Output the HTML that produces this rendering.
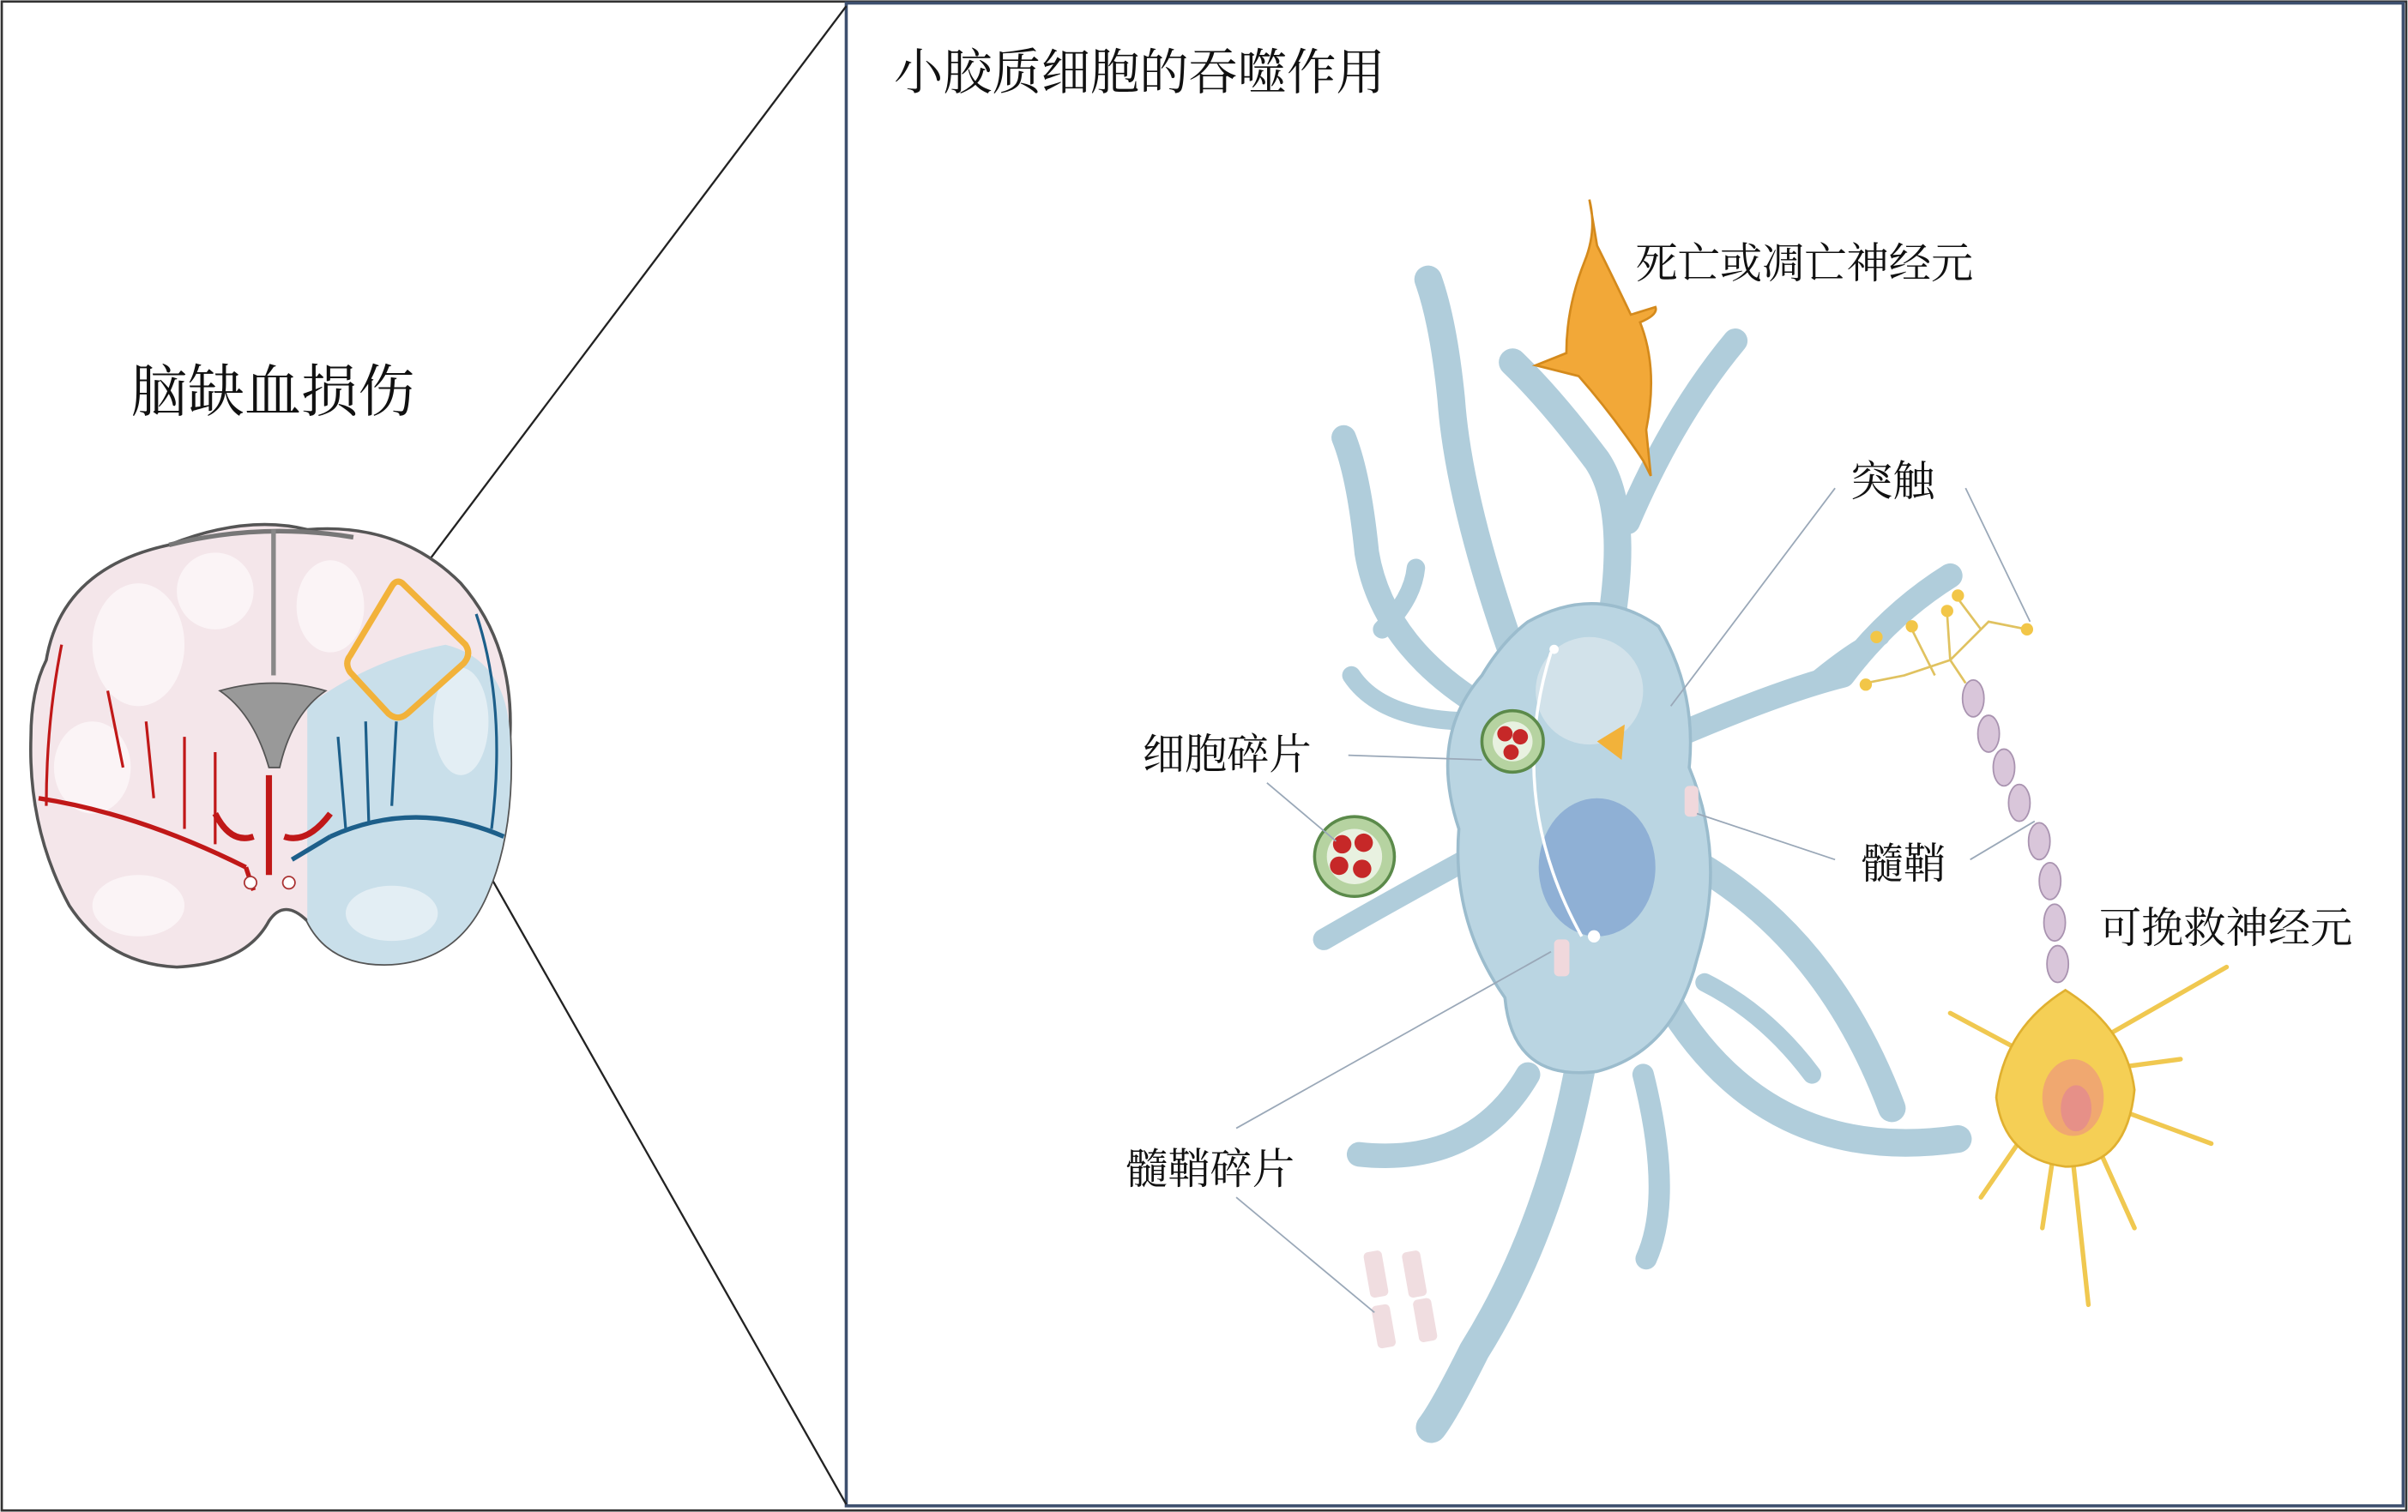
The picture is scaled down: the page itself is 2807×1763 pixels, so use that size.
<!DOCTYPE html>
<html><head><meta charset="utf-8"><style>
html,body{margin:0;padding:0;background:#fff;}
svg{display:block;}
text{font-family:"Liberation Serif","Noto Serif CJK SC","Noto Sans CJK SC",serif;fill:#111;}
</style></head><body>
<svg width="2807" height="1763" viewBox="0 0 1568 985" xmlns="http://www.w3.org/2000/svg">
<rect x="0" y="0" width="1568" height="985" fill="#fff"/>
<rect x="1" y="1" width="1566" height="983" fill="none" stroke="#333" stroke-width="1.5"/>
<rect x="551" y="2" width="1014" height="979" fill="none" stroke="#3d4f6e" stroke-width="2"/>
<line x1="551" y1="4" x2="268" y2="380" stroke="#222" stroke-width="1.3"/>
<line x1="551" y1="980" x2="262" y2="470" stroke="#222" stroke-width="1.3"/>

<text x="85" y="268" font-size="37">脑缺血损伤</text>
<text x="582" y="58" font-size="32">小胶质细胞的吞噬作用</text>

<!-- Brain -->
<g>
<path d="M30,430 Q40,370 110,355 Q160,335 200,345 Q260,340 300,380 Q335,420 332,480 Q335,540 318,580 Q300,625 255,628 Q215,630 200,600 Q185,585 175,600 Q160,628 115,630 Q70,628 45,590 Q18,540 20,480 Q20,450 30,430Z" fill="#f4e6ea" stroke="#555" stroke-width="2"/>
<path d="M200,460 Q240,430 290,420 Q330,430 332,480 Q335,540 318,580 Q300,625 255,628 Q215,630 200,600Z" fill="#c9dfea"/>
<g fill="#fbf4f6"><ellipse cx="90" cy="420" rx="30" ry="40"/><ellipse cx="140" cy="385" rx="25" ry="25"/><ellipse cx="60" cy="500" rx="25" ry="30"/><ellipse cx="90" cy="590" rx="30" ry="20"/><ellipse cx="215" cy="395" rx="22" ry="30"/></g>
<g fill="#e3eef4"><ellipse cx="300" cy="470" rx="18" ry="35"/><ellipse cx="255" cy="595" rx="30" ry="18"/></g>
<path d="M230,350 Q170,340 110,355" fill="none" stroke="#777" stroke-width="3"/>
<path d="M178,345 L178,440" stroke="#888" stroke-width="3"/>
<path d="M143,450 Q178,440 212,450 Q190,465 182,500 L175,500 Q165,465 143,450Z" fill="#999" stroke="#555"/>
<path d="M175,505 L175,570 M165,545 Q150,550 140,530 M185,545 Q200,550 215,530" stroke="#c01818" stroke-width="4" fill="none"/>
<path d="M25,520 Q90,530 160,565 M160,565 L165,580" stroke="#c01818" stroke-width="3" fill="none"/>
<path d="M40,420 Q30,470 30,525 M80,500 L70,450 M100,520 L95,470 M120,540 L120,480 M140,550 L140,490" stroke="#c01818" stroke-width="1.8" fill="none"/>
<path d="M215,545 Q270,520 328,545 M190,560 L215,545" stroke="#1d5f8a" stroke-width="3" fill="none"/>
<path d="M310,400 Q330,460 320,540 M225,540 L220,480 M240,535 L238,470 M255,525 L258,470" stroke="#1d5f8a" stroke-width="1.8" fill="none"/>
<circle cx="163" cy="575" r="4" fill="#fff" stroke="#a33"/><circle cx="188" cy="575" r="4" fill="#fff" stroke="#a33"/>
<path d="M262,380 L303,420 Q307,426 302,432 L265,465 Q259,470 253,465 L228,438 Q224,432 228,427 L255,382 Q258,377 262,380Z" fill="none" stroke="#f2b23a" stroke-width="4"/>
</g>

<g fill="none" stroke="#b0cddb" stroke-linecap="round" stroke-linejoin="round">
<path d="M990,440 Q950,330 945,260 Q940,210 930,182" stroke-width="18"/>
<path d="M1050,400 Q1060,330 1040,300 Q1010,260 985,236" stroke-width="18"/>
<path d="M1060,340 Q1090,270 1130,222" stroke-width="16"/>
<path d="M965,460 Q900,420 890,360 Q885,310 875,285" stroke-width="16"/>
<path d="M900,410 Q920,390 922,370" stroke-width="12"/>
<path d="M960,470 Q900,470 880,440" stroke-width="12"/>
<path d="M955,560 Q900,590 862,612" stroke-width="14"/>
<path d="M1090,480 Q1160,450 1200,440 Q1230,400 1270,375" stroke-width="16"/>
<path d="M1180,445 Q1210,420 1225,415" stroke-width="11"/>
<path d="M1100,560 Q1190,610 1232,722" stroke-width="18"/>
<path d="M1085,650 Q1150,760 1275,742" stroke-width="18"/>
<path d="M1030,690 Q1010,800 960,880 Q940,920 932,930" stroke-width="20"/>
<path d="M1070,700 Q1090,780 1072,820" stroke-width="14"/>
<path d="M995,700 Q960,760 885,752" stroke-width="16"/>
<path d="M1110,640 Q1150,660 1180,700" stroke-width="12"/>
</g>
<path d="M995,405 Q1040,380 1080,408 Q1105,450 1100,500 Q1125,560 1105,625 Q1090,685 1040,698 Q985,705 980,650 Q945,600 950,540 Q930,480 965,440 Q978,418 995,405Z" fill="#bad5e2" stroke="#9bbccd" stroke-width="2"/>
<ellipse cx="1040" cy="565" rx="38" ry="45" fill="#8fb0d5"/>
<ellipse cx="1035" cy="450" rx="35" ry="35" fill="#d2e2ea"/>
<path d="M1010,425 Q980,520 1030,610" fill="none" stroke="#fff" stroke-width="2"/>
<circle cx="1012" cy="423" r="3" fill="#fff"/><circle cx="1038" cy="610" r="4" fill="#fff"/>
<path d="M1040,483 L1058,472 L1056,495Z" fill="#f2b23a"/>
<rect x="1012" y="612" width="10" height="24" rx="3" fill="#f0d8dc"/>
<rect x="1097" y="512" width="9" height="20" rx="3" fill="#f0d8dc"/>
<g>
<circle cx="985" cy="483" r="20" fill="#b6d3a1" stroke="#5b8a4a" stroke-width="2"/>
<circle cx="985" cy="483" r="13" fill="#e8f1e0"/>
<circle cx="980" cy="478" r="5" fill="#c62828"/><circle cx="990" cy="480" r="5" fill="#c62828"/><circle cx="984" cy="490" r="5" fill="#c62828"/>
<circle cx="882" cy="558" r="26" fill="#b6d3a1" stroke="#5b8a4a" stroke-width="2"/>
<circle cx="882" cy="558" r="18" fill="#e8f1e0"/>
<circle cx="874" cy="550" r="6" fill="#c62828"/><circle cx="888" cy="549" r="6" fill="#c62828"/><circle cx="872" cy="564" r="6" fill="#c62828"/><circle cx="887" cy="566" r="6" fill="#c62828"/>
</g>
<g fill="#f0dde0"><rect x="890" y="815" width="12" height="30" rx="3" transform="rotate(-10 896 830)"/><rect x="915" y="815" width="12" height="30" rx="3" transform="rotate(-10 921 830)"/><rect x="895" y="850" width="12" height="28" rx="3" transform="rotate(-10 901 864)"/><rect x="922" y="846" width="12" height="28" rx="3" transform="rotate(-10 928 860)"/></g>

<path d="M1035,130 Q1040,150 1032,170 Q1020,200 1020,230 L1000,238 L1028,245 Q1050,270 1070,300 L1075,310 L1072,280 Q1080,240 1068,210 Q1080,205 1078,200 L1062,205 Q1050,180 1040,160Z" fill="#f2a838" stroke="#d48a1c" stroke-width="1.5"/>

<g fill="#d9c6da" stroke="#a993b0" stroke-width="1">
<ellipse cx="1285" cy="455" rx="7" ry="12"/><ellipse cx="1295" cy="478" rx="7" ry="12"/><ellipse cx="1305" cy="500" rx="7" ry="12"/>
<ellipse cx="1315" cy="523" rx="7" ry="12"/><ellipse cx="1328" cy="548" rx="7" ry="12"/><ellipse cx="1335" cy="574" rx="7" ry="12"/><ellipse cx="1338" cy="601" rx="7" ry="12"/><ellipse cx="1340" cy="628" rx="7" ry="12"/>
</g>
<g stroke="#e0c260" stroke-width="1.5" fill="none">
<path d="M1280,445 L1270,430 L1240,440 L1215,445 M1270,430 L1268,400 M1260,440 L1245,410 M1270,430 L1295,405 L1320,410 M1290,410 L1275,390"/>
</g>
<g fill="#f2c648"><circle cx="1215" cy="446" r="4"/><circle cx="1320" cy="410" r="4"/><circle cx="1268" cy="398" r="4"/><circle cx="1245" cy="408" r="4"/><circle cx="1275" cy="388" r="4"/><circle cx="1222" cy="415" r="4"/></g>
<g stroke="#f0c850" stroke-width="3" fill="none" stroke-linecap="round">
<path d="M1345,690 L1450,630 M1345,700 L1270,660 M1345,710 L1440,745 M1345,710 L1360,850 M1345,700 L1290,780 M1345,700 L1420,690 M1345,700 L1330,800 M1345,700 L1390,800"/>
</g>
<path d="M1345,645 Q1385,670 1390,710 Q1385,760 1345,760 Q1305,755 1300,715 Q1305,670 1345,645Z" fill="#f5cf55" stroke="#e0b030" stroke-width="1.5"/>
<ellipse cx="1350" cy="715" rx="20" ry="25" fill="#f0a870"/>
<ellipse cx="1352" cy="722" rx="10" ry="15" fill="#e69088"/>

<g stroke="#9aa8b8" stroke-width="1" fill="none">
<line x1="878" y1="492" x2="965" y2="495"/>
<line x1="825" y1="510" x2="870" y2="548"/>
<line x1="1195" y1="318" x2="1088" y2="460"/>
<line x1="1280" y1="318" x2="1322" y2="405"/>
<line x1="1195" y1="560" x2="1105" y2="530"/>
<line x1="1283" y1="560" x2="1325" y2="535"/>
<line x1="805" y1="735" x2="1010" y2="620"/>
<line x1="805" y1="780" x2="895" y2="855"/>
</g>

<text x="1065" y="181" font-size="27.5">死亡或凋亡神经元</text>
<text x="1205" y="323" font-size="27.5">突触</text>
<text x="744" y="501" font-size="27.5">细胞碎片</text>
<text x="1212" y="572" font-size="27.5">髓鞘</text>
<text x="1367" y="614" font-size="27.5">可挽救神经元</text>
<text x="733" y="771" font-size="27.5">髓鞘碎片</text>
</svg>
</body></html>
